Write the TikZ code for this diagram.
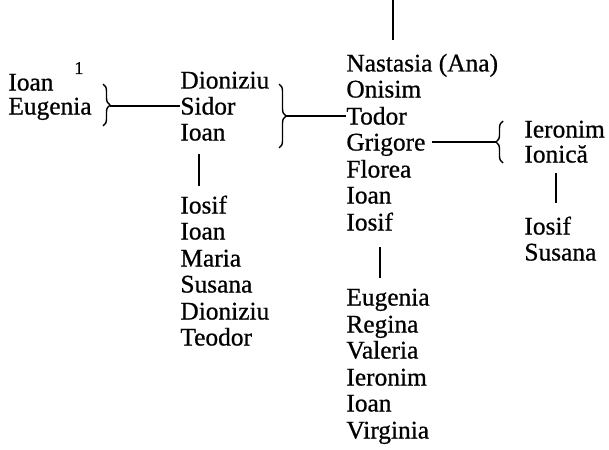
\documentclass[tikz,border=0pt]{standalone}
\usepackage{fontspec}
\setmainfont{Liberation Serif}[FakeBold=0.7]
\usepackage{tikz}
\usetikzlibrary{decorations.pathreplacing}

\begin{document}
\begin{tikzpicture}[x=0.5pt,y=-0.5pt,font=\fontsize{12.7}{15}\selectfont,
   every node/.style={anchor=west,inner sep=0pt,text height=8.5pt,text depth=0pt},
   bar/.style={line width=1pt},
   link/.style={line width=0.7pt},
   brc/.style={decorate,decoration={brace,amplitude=3.5pt},line width=0.7pt}]
 \useasboundingbox (0,0) rectangle (609,449);

   \draw (8,82) node (Ioan1) {Ioan};
   \draw (8,106) node (Eugenia1) {Eugenia};
   \draw (74,68) node[font=\fontsize{9}{10}\selectfont,text height=6pt] (one) {1};

    \draw (180,80) node (Dioniziu1) {Dioniziu};
    \draw (180,106) node (Sidor) {Sidor};
    \draw (180,132) node (Ioan2) {Ioan};
      \draw (180,205) node (Iosif1) {Iosif};
      \draw (180,231) node (Ioan3) {Ioan};
      \draw (180,258) node (Maria) {Maria};
      \draw (180,284) node (Susana1) {Susana};
      \draw (180,311) node (Dioniziu2) {Dioniziu};
      \draw (180,337) node (Teodor) {Teodor};

  \draw (346,63) node (Nastasia) {Nastasia (Ana)};
  \draw (346,89) node (Onisim) {Onisim};
  \draw (346,116) node (Todor) {Todor};
  \draw (346,142) node (Grigore) {Grigore};
  \draw (346,169) node (Florea) {Florea};
  \draw (346,195) node (Ioan4) {Ioan};
  \draw (346,222) node (Iosif2) {Iosif};
      \draw (346,297) node (Eugenia2) {Eugenia};
      \draw (346,324) node (Regina) {Regina};
      \draw (346,350) node (Valeria) {Valeria};
      \draw (346,377) node (Ieronim1) {Ieronim};
      \draw (346,403) node (Ioan5) {Ioan};
      \draw (346,430) node (Virginia) {Virginia};

   \draw (524,129) node (Ieronim2) {Ieronim};
   \draw (524,154) node (Ionica) {Ionică};
     \draw (524,226) node (Iosif3) {Iosif};
     \draw (524,252) node (Susana2) {Susana};

   % acolade
   \draw[brc] (103,84) -- (103,126);
   \coordinate (bA) at (110,106);
   \draw[brc] (279,84) -- (279,148);
   \coordinate (bB) at (286,116);
   \draw[brc] (503,163) -- (503,121);
   \coordinate (bD) at (496,142);
   \coordinate (top) at (393,0);

       \path[-,link] (bA) edge (Sidor.west);
       \path[-,link] (bB) edge (Todor.west);
       \path[-,link] (Grigore.east) edge[shorten <=3pt] (bD);

       \draw[bar] ([xshift=-2pt,yshift=-6.5pt]Ioan2.south) -- ([xshift=-2pt,yshift=5pt]Ioan2.south |- Iosif1.north);
       \draw[bar] ([xshift=5pt,yshift=-8pt]Iosif2.south) -- ([xshift=5pt,yshift=5pt]Iosif2.south |- Eugenia2.north);
       \draw[bar] ([yshift=-5pt]Ionica.south) -- ([yshift=7pt]Ionica.south |- Iosif3.north);
       \draw[bar] (top) -- ([yshift=7pt]top |- Nastasia.north);

\end{tikzpicture}
\end{document}
